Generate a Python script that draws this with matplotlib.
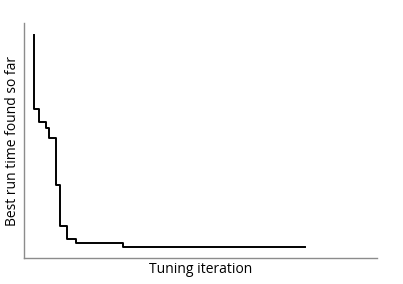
import matplotlib
matplotlib.use('Agg')
import matplotlib.pyplot as plt

# tuning iterations at which the best run time improved (arbitrary units)
iterations = [1.0, 1.0, 2.56, 4.45, 5.42, 7.49, 8.58, 10.65, 13.39, 27.25, 80.94]
best_time = [223, 149.3, 136, 130.3, 119.7, 73.3, 32.3, 18.7, 15.3, 11.3, 11.3]

plt.rcParams['font.family'] = ['Open Sans', 'DejaVu Sans']

fig = plt.figure(figsize=(4.03, 2.84), dpi=100)
ax = fig.add_axes([24 / 403, 26 / 284, 353 / 403, 235 / 284])

ax.step(iterations, best_time, where='post', color='black', linewidth=1.4)

ax.set_xlim(-1.95, 102.2)
ax.set_ylim(0, 235)
ax.set_xticks([])
ax.set_yticks([])
for side in ['top', 'right']:
    ax.spines[side].set_visible(False)
for side in ['left', 'bottom']:
    ax.spines[side].set_color('#8c8c8c')
    ax.spines[side].set_linewidth(1.0)

ax.set_xlabel('Tuning iteration', fontsize=10, labelpad=3)
ax.set_ylabel('Best run time found so far', fontsize=10, labelpad=3)

fig.savefig('out.png', dpi=100)
